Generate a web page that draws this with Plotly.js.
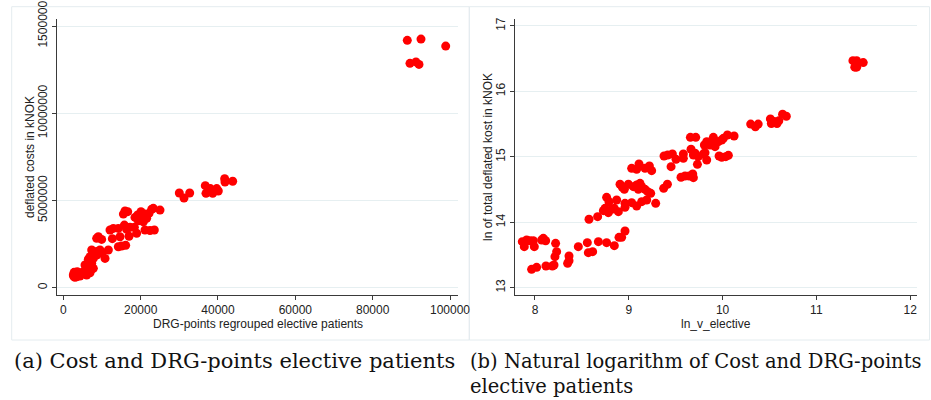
<!DOCTYPE html>
<html><head><meta charset="utf-8">
<script src="https://cdn.plot.ly/plotly-3.0.1.min.js"></script>
<style>html,body{margin:0;padding:0;background:#fff;}#chart{width:931px;height:400px;}</style>
</head><body><div id="chart"></div>
<script>
// Panel (a): DRG-points vs deflated costs (kNOK)
const drgPoints = [88958,92500,98886,89650,91200,91980,
  30000,31210,32680,36720,36900,38020,38630,39670,40080,41730,41810,43800,
  15960,16650,15530,18540,19230,20090,20440,21130,21560,22160,22850,23280,25010,19410,20700,
  12080,12940,14230,15790,16390,17250,18370,18970,17000,21130,22420,23540,
  8630,9060,9920,12680,14660,14230,15090,16130,
  7340,8630,9490,9920,11650,10790,8630,6910,6470,7770,
  5610,7340,6040,7770,6470,5180,6910,3890,3030,2590,3460,4320,6040,
  2800,3300,3000,4000,4800,3600,2700,5500,7200];
const deflatedCost = [14180000,14250000,13850000,12860000,12940000,12800000,
  5430000,5140000,5430000,5850000,5410000,5680000,5410000,5680000,5540000,6250000,6060000,6100000,
  4400000,4360000,4220000,4030000,4170000,4360000,4110000,4220000,3980000,4260000,4490000,4550000,4450000,3840000,3780000,
  3310000,3400000,3400000,3590000,3340000,3460000,3460000,3120000,2950000,3310000,3280000,3310000,
  2830000,2920000,2770000,2810000,2920000,2350000,2390000,2430000,
  2160000,2070000,2160000,1970000,2160000,1680000,1870000,1780000,1630000,1680000,
  1300000,1400000,1200000,1110000,980000,920000,860000,860000,820000,730000,630000,670000,730000,
  880000,700000,600000,750000,800000,920000,650000,950000,1020000];

// Panel (b): natural logarithms
const lnVElective = [11.39,11.43,11.41,11.43,11.50,
  10.30,10.35,10.38,10.51,10.52,10.55,10.58,10.60,10.64,10.68,
  9.657,9.714,9.664,9.689,9.707,9.742,9.732,9.796,9.813,9.831,9.806,9.831,9.884,9.902,9.920,9.867,9.956,9.991,10.009,10.052,10.123,9.963,9.991,10.034,10.062,
  9.376,9.415,9.465,9.504,9.451,9.582,9.582,9.557,9.600,9.643,9.682,9.689,9.372,9.412,9.287,
  9.031,9.084,9.109,9.173,9.220,9.244,8.907,8.932,8.953,8.996,9.049,9.084,9.120,9.102,9.138,9.173,9.202,9.234,
  8.960,9.031,9.084,9.138,9.191,8.764,8.789,8.871,8.846,8.729,8.747,8.782,8.818,8.889,8.960,8.668,8.576,
  8.462,8.558,8.569,8.615,8.676,8.764,8.846,8.896,8.924,8.960,
  8.348,8.363,8.363,8.220,8.231,8.213,8.203,8.185,8.117,8.018,7.964,
  7.865,7.886,7.911,7.947,7.982,7.993,8.071,8.089,8.114];
const lnCost = [16.47,16.47,16.37,16.37,16.44,
  15.50,15.46,15.50,15.58,15.51,15.54,15.51,15.55,15.65,15.62,
  15.298,15.298,15.115,15.028,15.054,15.003,14.885,15.043,15.064,14.952,15.181,15.232,15.217,15.298,15.155,15.181,15.232,15.257,15.283,15.334,15.318,15.013,14.992,15.003,15.023,
  15.013,15.028,15.043,14.962,14.850,15.043,14.977,14.687,14.707,14.707,14.738,14.682,14.518,14.580,14.289,
  14.824,14.809,14.890,14.824,14.860,14.789,14.580,14.534,14.503,14.580,14.544,14.569,14.595,14.503,14.544,14.503,14.468,14.442,
  14.289,14.299,14.248,14.315,14.340,14.381,14.315,14.340,14.213,14.177,14.213,14.147,14.197,14.162,14.228,14.085,14.045,
  13.627,13.688,13.535,13.550,13.703,13.688,13.642,13.769,13.769,13.866,
  13.372,13.484,13.413,13.678,13.550,13.474,13.346,13.331,13.331,13.311,13.280,
  13.703,13.627,13.729,13.718,13.718,13.627,13.729,13.754,13.718];

const leftXTicks = [0,20000,40000,60000,80000,100000];
const leftXTickText = ["0","20000","40000","60000","80000","100000"];
const leftYTicks = [0,5000000,10000000,15000000];
const leftYTickText = ["0","5000000","10000000","1500000"];
const rightXTicks = [8,9,10,11,12];
const rightYTicks = [13,14,15,16,17];

const xTitleA = "DRG-points regrouped elective patients";
const yTitleA = "deflated costs in kNOK";
const xTitleB = "ln_v_elective";
const yTitleB = "ln of total deflated kost in kNOK";
const captionA = "(a) Cost and DRG-points elective patients";
const captionB = "(b) Natural logarithm of Cost and DRG-points<br>elective patients";

const W = 931, H = 400;
const px = v => v / W;
const py = v => 1 - v / H;

const markerStyle = {color: '#ff0000', size: 9, line: {width: 0}};
const traces = [
  {type: 'scatter', mode: 'markers', x: drgPoints, y: deflatedCost, xaxis: 'x', yaxis: 'y', marker: markerStyle, hoverinfo: 'x+y'},
  {type: 'scatter', mode: 'markers', x: lnVElective, y: lnCost, xaxis: 'x2', yaxis: 'y2', marker: markerStyle, hoverinfo: 'x+y'}
];

const tickFont = {family: 'Liberation Sans, Arial, sans-serif', size: 12, color: '#222'};
const titleFont = {family: 'Liberation Sans, Arial, sans-serif', size: 12, color: '#222'};
const axisCommon = {
  showline: true, linecolor: '#3a3a3a', linewidth: 1,
  ticks: 'outside', ticklen: 4, tickcolor: '#3a3a3a', tickwidth: 1,
  tickfont: tickFont, zeroline: false, fixedrange: true, ticklabeloverflow: 'allow'
};

const axTitle = (text, x, y, angle) => ({
  text: text, xref: 'paper', yref: 'paper', x: px(x), y: py(y), xanchor: 'center', yanchor: 'middle',
  showarrow: false, textangle: angle, font: titleFont, borderpad: 0
});

const layout = {
  width: W, height: H,
  margin: {l: 0, r: 0, t: 0, b: 0},
  paper_bgcolor: '#ffffff', plot_bgcolor: '#ffffff',
  showlegend: false,
  xaxis: Object.assign({}, axisCommon, {
    domain: [px(56.7), px(457.7)], range: [-1707, 101990],
    tickmode: 'array', tickvals: leftXTicks, ticktext: leftXTickText,
    showgrid: false, anchor: 'y'
  }),
  yaxis: Object.assign({}, axisCommon, {
    domain: [py(295), py(19.3)], range: [-418000, 15384000],
    tickmode: 'array', tickvals: leftYTicks, ticktext: leftYTickText,
    tickangle: -90, showgrid: true, gridcolor: '#e6eff1', gridwidth: 1, anchor: 'x'
  }),
  xaxis2: Object.assign({}, axisCommon, {
    domain: [px(515), px(916.7)], range: [7.787, 12.07],
    tickmode: 'array', tickvals: rightXTicks,
    showgrid: false, anchor: 'y2'
  }),
  yaxis2: Object.assign({}, axisCommon, {
    domain: [py(295), py(19.3)], range: [12.888, 17.102],
    tickmode: 'array', tickvals: rightYTicks,
    tickangle: -90, showgrid: true, gridcolor: '#e6eff1', gridwidth: 1, anchor: 'x2'
  }),
  shapes: [
    {type: 'rect', xref: 'paper', yref: 'paper', x0: px(11.7), x1: px(469.3), y0: py(340), y1: py(6.7),
     line: {color: '#e4ecef', width: 1}, fillcolor: 'rgba(0,0,0,0)', layer: 'below'},
    {type: 'rect', xref: 'paper', yref: 'paper', x0: px(469.3), x1: px(929.5), y0: py(340), y1: py(6.7),
     line: {color: '#e4ecef', width: 1}, fillcolor: 'rgba(0,0,0,0)', layer: 'below'}
  ],
  annotations: [
    axTitle(xTitleA, 258, 323.5, 0),
    axTitle(yTitleA, 30, 157, -90),
    axTitle(xTitleB, 716, 323.5, 0),
    axTitle(yTitleB, 488, 157, -90),
    {text: captionA, xref: 'paper', yref: 'paper', x: px(12), y: py(361), xanchor: 'left', yanchor: 'middle',
     showarrow: false, align: 'left', font: {family: 'DejaVu Serif, serif', size: 21, color: '#111'}},
    {text: captionB, xref: 'paper', yref: 'paper', x: px(468), y: py(348), xanchor: 'left', yanchor: 'top',
     showarrow: false, align: 'left', font: {family: 'DejaVu Serif, serif', size: 19.5, color: '#111'}}
  ]
};

Plotly.newPlot('chart', traces, layout, {displayModeBar: false, staticPlot: true});
</script>
</body></html>
